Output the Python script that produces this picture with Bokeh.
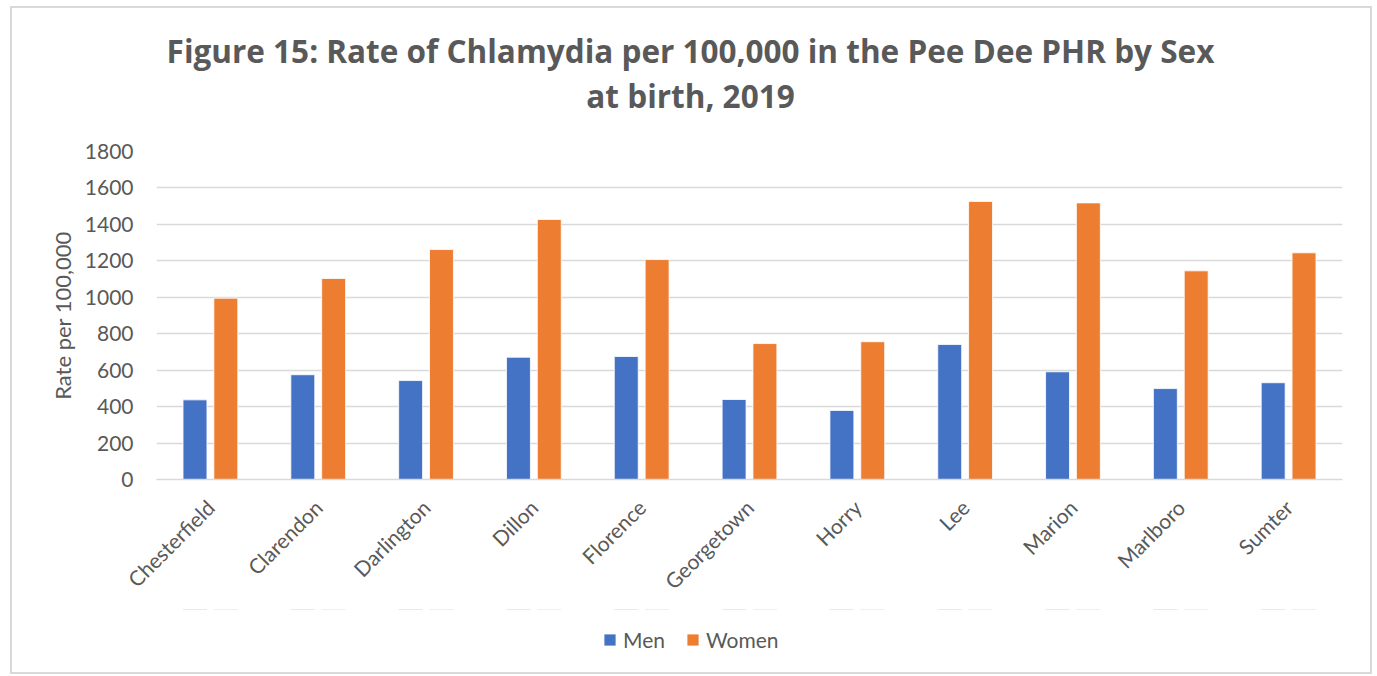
import math
from bokeh.plotting import figure
from bokeh.layouts import column
from bokeh.models import (FactorRange, Range1d, Legend, LegendItem, Label,
                          FixedTicker, ColumnDataSource)
from bokeh.transform import dodge
from bokeh.embed import file_html
from bokeh.resources import INLINE

counties = ["Chesterfield", "Clarendon", "Darlington", "Dillon", "Florence",
            "Georgetown", "Horry", "Lee", "Marion", "Marlboro", "Sumter"]
men = [437, 575, 543, 671, 675, 439, 379, 741, 591, 499, 531]
women = [995, 1103, 1262, 1427, 1207, 746, 756, 1526, 1518, 1145, 1244]
y_ticks = [0, 200, 400, 600, 800, 1000, 1200, 1400, 1600, 1800]
title_lines = ["Figure 15: Rate of Chlamydia per 100,000 in the Pee Dee PHR by Sex",
               "at birth, 2019"]
series_names = ["Men", "Women"]

FONT = "Lato"
TFONT = "Open Sans"
TXT = "#595959"
GRID = "#d9d9d9"
BLUE = "#4472C4"
ORANGE = "#ED7D31"
W = 1358

src = ColumnDataSource(dict(county=counties, men=men, women=women))
x_range = FactorRange(*counties, range_padding=0)

# ---- title strip ----
tf = figure(width=W, height=129, x_range=Range1d(0, 1), y_range=Range1d(0, 1),
            x_axis_type=None, y_axis_type=None, min_border=0,
            output_backend="svg", toolbar_location=None)
tf.outline_line_color = None
for txt, yy in zip(title_lines, [87, 42]):
    tf.add_layout(Label(x=534, y=yy, x_units="screen", y_units="screen", text=txt,
                        text_font=TFONT, text_font_size="31.5px",
                        text_font_style="bold", text_color=TXT,
                        text_align="center", text_baseline="alphabetic"))

# ---- main chart ----
p = figure(x_range=x_range, y_range=Range1d(0, y_ticks[-1]),
           width=W, height=472,
           output_backend="svg", toolbar_location=None,
           min_border_left=144, min_border_right=28,
           min_border_top=14, min_border_bottom=130)
p.outline_line_color = None

p.vbar(x=dodge("county", -0.143, range=x_range), top="men", width=0.222,
       source=src, fill_color=BLUE, line_color="white", line_width=0.8)
p.vbar(x=dodge("county", 0.143, range=x_range), top="women", width=0.222,
       source=src, fill_color=ORANGE, line_color="white", line_width=0.8)

p.xgrid.grid_line_color = None
p.ygrid.grid_line_color = GRID
p.ygrid.grid_line_width = 1.5
p.ygrid.ticker = FixedTicker(ticks=y_ticks)

p.yaxis.ticker = FixedTicker(ticks=y_ticks)
p.yaxis.axis_line_color = None
p.yaxis.major_tick_line_color = None
p.yaxis.minor_tick_line_color = None
p.yaxis.major_label_text_font = FONT
p.yaxis.major_label_text_font_size = "21px"
p.yaxis.major_label_text_color = TXT
p.yaxis.major_label_standoff = 17
p.yaxis.axis_label = "Rate per 100,000"
p.yaxis.axis_label_text_font = FONT
p.yaxis.axis_label_text_font_size = "22px"
p.yaxis.axis_label_text_font_style = "normal"
p.yaxis.axis_label_text_color = TXT
p.yaxis.axis_label_standoff = 6

p.xaxis.axis_line_color = GRID
p.xaxis.axis_line_width = 1.5
p.xaxis.major_tick_line_color = None
p.xaxis.minor_tick_line_color = None
p.xaxis.major_label_orientation = math.pi / 4
p.xaxis.major_label_text_font = FONT
p.xaxis.major_label_text_font_size = "21px"
p.xaxis.major_label_text_color = TXT
p.xaxis.major_label_standoff = 18

# ---- legend strip (same series, drawn outside its visible y range) ----
lf = figure(width=W, height=63, x_range=x_range, y_range=Range1d(-2, -1),
            x_axis_type=None, y_axis_type=None, min_border=0,
            output_backend="svg", toolbar_location=None)
lf.outline_line_color = None
lf.xgrid.visible = False
lf.ygrid.visible = False
lm = lf.vbar(x=dodge("county", -0.143, range=x_range), top="men", width=0.222,
             source=src, fill_color=BLUE, line_color="white", line_width=0.8)
lw = lf.vbar(x=dodge("county", 0.143, range=x_range), top="women", width=0.222,
             source=src, fill_color=ORANGE, line_color="white", line_width=0.8)
legend = Legend(items=[LegendItem(label=series_names[0], renderers=[lm]),
                       LegendItem(label=series_names[1], renderers=[lw])],
                location=(446, 20), orientation="horizontal",
                label_text_font=FONT, label_text_font_size="21px",
                label_text_color=TXT, glyph_width=15, glyph_height=15,
                spacing=20, label_standoff=6, padding=4, margin=0,
                border_line_color=None, background_fill_alpha=0)
lf.add_layout(legend, "center")

layout = column(tf, p, lf, spacing=0)
layout.styles = {"border": "2px solid #d9d9d9", "margin-left": "10px",
                 "margin-top": "6px"}

open("out.html", "w").write(file_html(layout, INLINE))
